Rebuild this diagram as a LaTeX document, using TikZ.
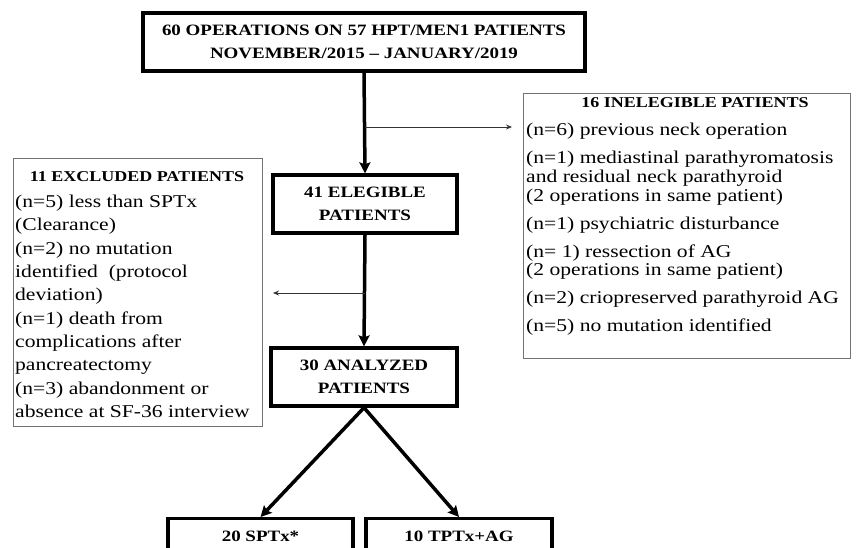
\documentclass[tikz,border=0pt]{standalone}
\usepackage{fontspec}
\setmainfont{Liberation Serif}[FakeStretch=1.2]
\usetikzlibrary{arrows.meta}
\begin{document}
\begin{tikzpicture}[x=1pt,y=-1pt,
  flowbox/.style={draw=black, line width=3.3pt, inner sep=0pt, align=center,
    font=\fontsize{15.8}{22.5}\selectfont\bfseries},
  panel/.style={draw=black!55, line width=1pt, inner sep=0pt},
  paneltitle/.style={inner sep=0pt, font=\fontsize{15}{18}\selectfont\bfseries},
  paneltextL/.style={inner sep=0pt, align=left, font=\fontsize{18}{23.3}\selectfont},
  paneltextR/.style={inner sep=0pt, align=left, font=\fontsize{18}{18.7}\selectfont},
  thickarrow/.style={line width=3.5pt, -{Stealth[length=11pt,width=11pt,inset=2pt]}},
  thinarrow/.style={line width=0.9pt, draw=black!80, -{Stealth[length=6pt,width=5pt]}}
]
\useasboundingbox (0,0) rectangle (861,547);
\clip (0,0) rectangle (861,547);

% main flow boxes
\node[flowbox, minimum width=442pt, minimum height=58pt] (top) at (364,42)
  {60 OPERATIONS ON 57 HPT/MEN1 PATIENTS\\NOVEMBER/2015 – JANUARY/2019};
\node[flowbox, minimum width=184pt, minimum height=58pt] (eleg) at (365,204)
  {41 ELEGIBLE\\PATIENTS};
\node[flowbox, minimum width=186pt, minimum height=58pt] (anal) at (364,377)
  {30 ANALYZED\\PATIENTS};
\node[flowbox, minimum width=185pt, minimum height=36pt, anchor=north] (spt) at (260.5,517)
  {20 SPTx*};
\node[flowbox, minimum width=186pt, minimum height=36pt, anchor=north] (tpt) at (459,517)
  {10 TPTx+AG};

% side panels
\node[panel, minimum width=249pt, minimum height=268pt, anchor=north west] (excl) at (13,158) {};
\node[paneltitle] (excltitle) at (137,177) {11 EXCLUDED PATIENTS};
\node[paneltextL, anchor=north west] (excltext) at (15,195)
  {(n=5) less than SPTx\\
   (Clearance)\\
   (n=2) no mutation\\
   identified\ \ (protocol\\
   deviation)\\
   (n=1) death from\\
   complications after\\
   pancreatectomy\\
   (n=3) abandonment or\\
   absence at SF-36 interview};

\node[panel, minimum width=327pt, minimum height=265pt, anchor=north west] (inel) at (523,93) {};
\node[paneltitle] (ineltitle) at (695,103) {16 INELEGIBLE PATIENTS};
\node[paneltextR, anchor=north west] (ineltext) at (526,123)
  {(n=6) previous neck operation\\[9.3pt]
   (n=1) mediastinal parathyromatosis\\
   and residual neck parathyroid\\
   (2 operations in same patient)\\[9.3pt]
   (n=1) psychiatric disturbance\\[9.3pt]
   (n= 1) ressection of AG\\
   (2 operations in same patient)\\[9.3pt]
   (n=2) criopreserved parathyroid AG\\[9.3pt]
   (n=5) no mutation identified};

% connectors
\coordinate (b1) at (365,127);
\coordinate (b1e) at (512,127);
\coordinate (b2) at (365,293);
\coordinate (b2e) at (273,293);
\draw[thickarrow] (top.south) -- (eleg.north);
\draw[thinarrow] (b1) -- (b1e);
\draw[thickarrow] (eleg.south) -- (anal.north);
\draw[thinarrow] (b2) -- (b2e);
\draw[thickarrow] (anal.south) -- (spt.north);
\draw[thickarrow] (anal.south) -- (tpt.north);
\end{tikzpicture}
\end{document}
